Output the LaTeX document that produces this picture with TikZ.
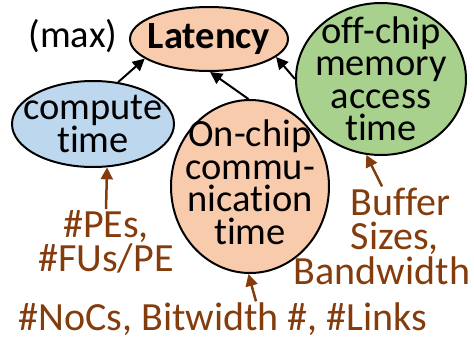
\documentclass[tikz,border=0pt]{standalone}
\usepackage{fontspec}
\setmainfont[Ligatures=NoCommon]{Carlito}
\usetikzlibrary{shapes.geometric,arrows.meta}

\definecolor{peach}{RGB}{248,203,173}
\definecolor{skyblue}{RGB}{189,215,238}
\definecolor{leafgreen}{RGB}{169,209,142}
\definecolor{rust}{RGB}{132,60,12}

\begin{document}
\begin{tikzpicture}[x=1pt,y=-1pt,
  bubble/.style={ellipse, draw=black, line width=2pt, inner sep=0pt},
  plain/.style={inner sep=1pt, align=center, font=\fontsize{38.5}{32.5}\selectfont},
  param/.style={inner sep=1pt, text=rust, font=\fontsize{40}{34.5}\selectfont},
  feeds/.style={line width=2pt, -{Triangle[length=12pt,width=12pt]}},
  tunes/.style={draw=rust, line width=2.5pt, -{Triangle[length=12pt,width=12pt]}, rust}]
\useasboundingbox (0,0) rectangle (474,341);

% cost components: outlines
\node[bubble, fill=peach, minimum width=158, minimum height=64] (lat) at (209,39) {};
\node[bubble, fill=skyblue, minimum width=162, minimum height=86] (comp) at (93,124) {};
\node[bubble, fill=peach, minimum width=158, minimum height=173] (noc) at (250,186.5) {};
\node[bubble, fill=leafgreen, minimum width=170, minimum height=152] (mem) at (381,79) {};

% cost components: labels
\node[plain] (latT) at (lat) {\bfseries Latency};
\node[plain] (compT) at (comp) {compute\\time};
\node[plain] (nocT) at ([yshift=4pt]noc.center) {On-chip\\commu-\\nication\\time};
\node[plain] (memT) at (mem) {off-chip\\memory\\access\\time};
\node[plain] (max) at (73,36) {(max)};

% design parameters
\node[param, align=center] (pes) at (106,242) {\#PEs,\\\#FUs/PE};
\node[param, align=left] (buf) at (382,236) {\hspace*{57pt}Buffer\\\hspace*{57pt}Sizes,\\Bandwidth};
\node[param] (links) at (223,319) {\#NoCs, Bitwidth \#, \#Links};

% latency is the max of the three components
\draw[feeds] (comp.59) -- (lat.197);
\draw[feeds] (noc.91) -- (lat.272);
\draw[feeds] (mem.180) -- (lat.345);

% parameters that drive each component
\draw[tunes] (pes.north) -- (comp.288);
\draw[tunes] ([xshift=33pt]links.north) -- (noc.269);
\draw[tunes] (buf.north) -- (mem.259);
\end{tikzpicture}
\end{document}
